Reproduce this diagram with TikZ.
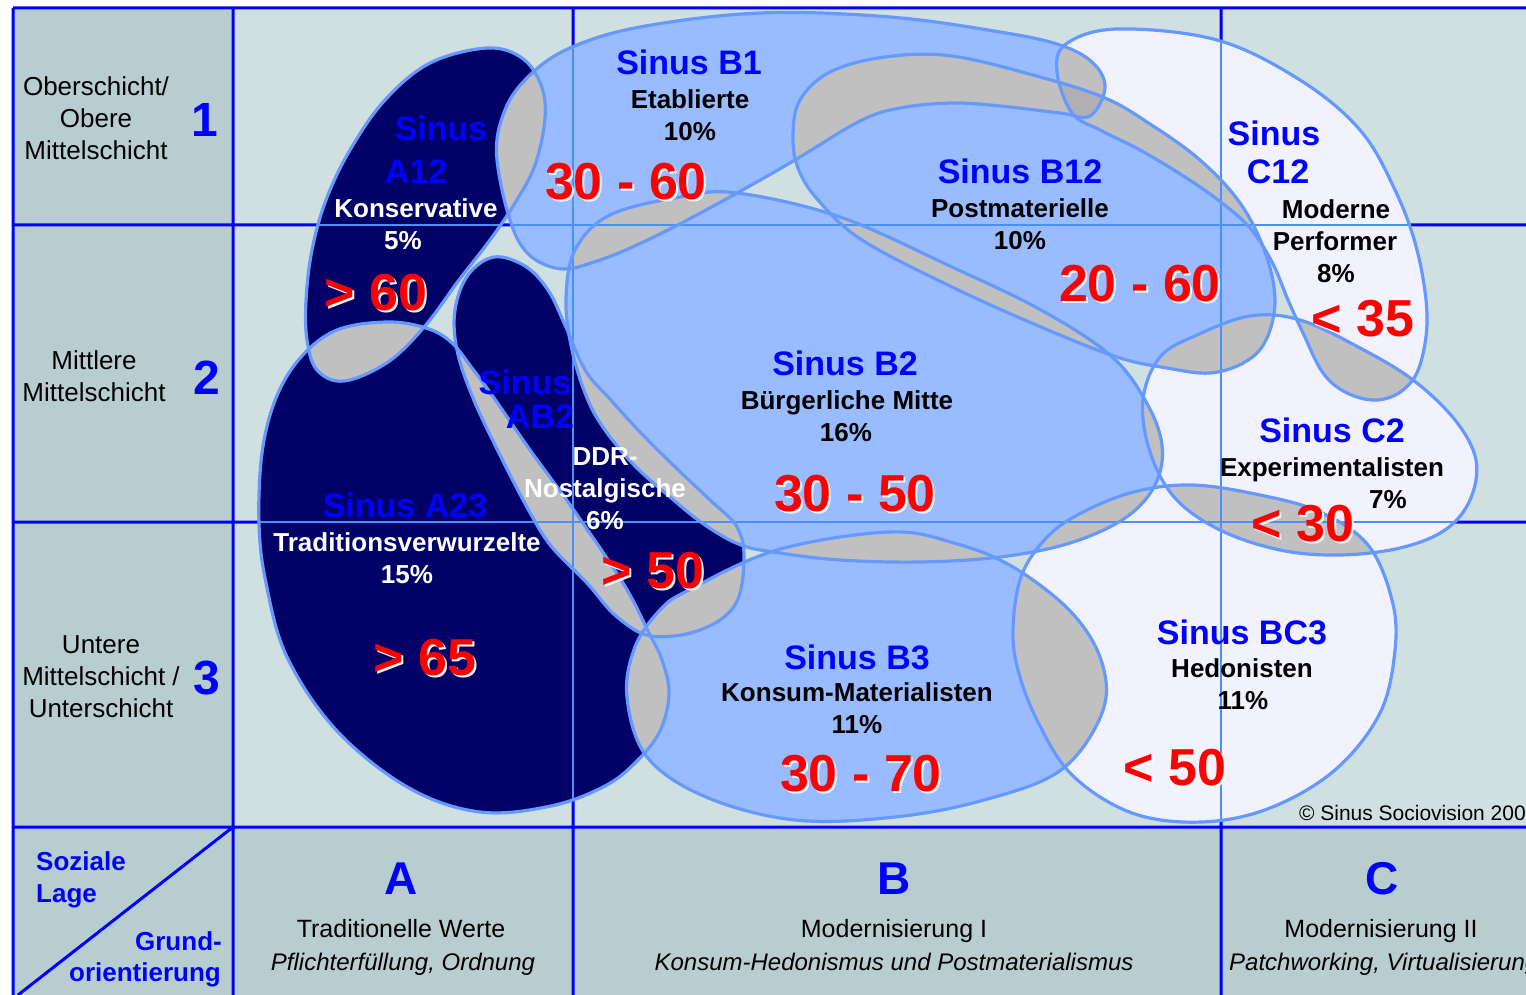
\documentclass[tikz,border=0pt]{standalone}
\usepackage{fontspec}
\setmainfont{Liberation Sans}
\definecolor{leftbg}{RGB}{184,205,208}
\definecolor{mainbg}{RGB}{208,224,224}
\definecolor{gridblue}{RGB}{0,0,255}
\definecolor{thinblue}{RGB}{70,145,255}
\definecolor{outl}{RGB}{102,153,255}
\definecolor{lblue}{RGB}{153,187,255}
\definecolor{navy}{RGB}{0,0,102}
\definecolor{pale}{RGB}{242,242,254}
\definecolor{ovg}{RGB}{192,192,192}
\definecolor{ovgd}{RGB}{176,176,180}
\definecolor{numred}{RGB}{255,0,0}
\definecolor{sinblue}{RGB}{0,0,255}
% blob paths
\def\pAa{plot[smooth cycle,tension=.6] coordinates {(487,48) (522,58) (541,85) (545,118) (535,165) (515,203) (490,240) (459,280) (425,326) (388,362) (344,381) (317,370) (307,340) (306,300) (312,250) (326,200) (350,150) (385,100) (430,63)}}
\def\pBa{plot[smooth cycle,tension=.6] coordinates {(497,160) (505,110) (530,75) (570,48) (640,27) (760,13) (890,17) (1000,32) (1060,45) (1093,63) (1105,88) (1090,116) (1060,113) (1000,106) (952,103) (900,108) (860,121) (795,160) (737,193) (662,233) (600,260) (555,268) (518,240)}}
\def\pBab{plot[smooth cycle,tension=.6] coordinates {(793,135) (800,100) (830,72) (885,57) (952,56) (1040,77) (1105,98) (1150,124) (1200,160) (1240,203) (1265,252) (1275,300) (1266,340) (1245,362) (1210,373) (1167,368) (1117,357) (1041,327) (952,287) (862,240) (818,200) (798,168)}}
\def\pCab{plot[smooth cycle,tension=.6] coordinates {(1057,72) (1066,44) (1117,29) (1217,40) (1300,80) (1360,130) (1395,190) (1417,250) (1427,315) (1420,365) (1403,390) (1377,400) (1347,393) (1323,373) (1303,333) (1288,300) (1272,262) (1250,228) (1222,203) (1185,177) (1140,150) (1100,130) (1072,113)}}
\def\pBb{plot[smooth cycle,tension=.6] coordinates {(566,300) (575,250) (610,215) (680,197) (737,193) (840,217) (952,267) (1041,310) (1110,355) (1145,400) (1162,445) (1155,485) (1125,518) (1070,543) (1000,557) (920,562) (840,560) (780,553) (741,545) (705,525) (670,497) (634,465) (605,430) (587,398) (572,350)}}
\def\pAB{plot[smooth cycle,tension=.6] coordinates {(494,257) (525,266) (548,290) (565,325) (585,370) (609,398) (640,432) (673,465) (710,500) (737,527) (744,560) (735,605) (700,630) (651,636) (616,616) (587,583) (551,546) (528,509) (500,455) (473,398) (457,350) (455,310) (468,275)}}
\def\pAb{plot[smooth cycle,tension=.6] coordinates {(387,322) (426,328) (451,342) (472,368) (494,398) (530,450) (573,509) (623,583) (648,631) (662,660) (669,694) (660,731) (637,761) (605,786) (551,806) (480,812) (409,788) (337,731) (287,657) (266,583) (259,524) (262,453) (276,398) (301,357) (337,330)}}
\def\pCb{plot[smooth cycle,tension=.6] coordinates {(1143,400) (1160,357) (1197,335) (1250,316) (1300,320) (1360,348) (1413,380) (1455,420) (1476,460) (1470,500) (1445,530) (1400,548) (1340,555) (1280,550) (1220,530) (1175,498) (1150,452)}}
\def\pBc{plot[smooth cycle,tension=.6] coordinates {(889,532) (954,543) (1013,567) (1072,613) (1102,663) (1102,713) (1061,770) (984,800) (895,817) (795,820) (706,797) (647,757) (627,697) (635,647) (660,610) (689,590) (777,550)}}
\def\pBCc{plot[smooth cycle,tension=.6] coordinates {(1191,485) (1260,495) (1320,512) (1368,545) (1392,600) (1395,650) (1380,713) (1335,770) (1270,808) (1202,822) (1132,813) (1072,775) (1037,720) (1018,670) (1013,630) (1020,580) (1040,545) (1072,518) (1130,493)}}
\newcommand\ovl[2]{\begin{scope}\clip #1; \fill[ovg] #2; \end{scope}}
\newcommand\thinin[1]{\begin{scope}\clip #1; \draw[thinl] (573,8)--(573,827) (1221,8)--(1221,827) (233,225)--(1526,225) (233,522)--(1526,522); \end{scope}}
\begin{document}
\begin{tikzpicture}[x=1pt,y=-1pt,
  gridl/.style={draw=gridblue,line width=3pt},
  thinl/.style={draw=thinblue,line width=1.1pt},
  blobline/.style={draw=outl,line width=3.2pt},
  lbl/.style={inner sep=0pt,anchor=base,yshift=-9.3pt,font=\fontsize{26}{28}\selectfont},
  rown/.style={inner sep=0pt,anchor=base,yshift=-17pt,text=sinblue,font=\bfseries\fontsize{48}{50}\selectfont},
  sinus/.style={inner sep=0pt,anchor=base,yshift=-12.2pt,text=sinblue,font=\bfseries\fontsize{34}{36}\selectfont},
  nm/.style={inner sep=0pt,anchor=base,yshift=-9.3pt,font=\bfseries\fontsize{26}{28}\selectfont},
  nmw/.style={nm,text=white},
  num/.style={inner sep=0pt,anchor=base,yshift=-18.6pt,text=numred,font=\bfseries\fontsize{52}{54}\selectfont},
  numsh/.style={num,text=white},
  colhead/.style={inner sep=0pt,anchor=base,yshift=-16.5pt,text=sinblue,font=\bfseries\fontsize{46}{48}\selectfont},
  colsub/.style={inner sep=0pt,anchor=base,yshift=-9pt,font=\fontsize{25}{27}\selectfont},
  colit/.style={inner sep=0pt,anchor=base,yshift=-8.6pt,font=\itshape\fontsize{24}{26}\selectfont},
  axl/.style={inner sep=0pt,anchor=base,yshift=-9.3pt,text=sinblue,font=\bfseries\fontsize{26}{28}\selectfont},
  copyr/.style={inner sep=0pt,anchor=base east,yshift=-7.5pt,font=\fontsize{21}{23}\selectfont}]
\useasboundingbox (0,0) rectangle (1526,995);
\clip (0,0) rectangle (1526,995);
\fill[white] (0,0) rectangle (1526,995);
% backgrounds
\fill[leftbg] (13,8) rectangle (233,827);
\fill[mainbg] (233,8) rectangle (1526,827);
\fill[leftbg] (13,827) rectangle (1526,995);
% thick grid
\draw[gridl] (13,8) -- (1526,8) (13,8) -- (13,995)
  (13,225) -- (1526,225) (13,522) -- (1526,522) (13,827) -- (1526,827)
  (233,8) -- (233,995) (573,8) -- (573,995) (1221,8) -- (1221,995)
  (233,827) -- (18,995);
% blob fills
\fill[navy] \pAa;
\fill[navy] \pAb;
\fill[navy] \pAB;
\fill[lblue] \pBa;
\fill[lblue] \pBab;
\fill[lblue] \pBb;
\fill[lblue] \pBc;
\fill[pale] \pCab;
\fill[pale] \pCb;
\fill[pale] \pBCc;
% overlaps
\ovl{\pAa}{\pBa}
\ovl{\pAa}{\pAb}
\ovl{\pAa}{\pAB}
\ovl{\pAb}{\pAB}
\ovl{\pAb}{\pBc}
\ovl{\pAB}{\pBb}
\ovl{\pAB}{\pBc}
\ovl{\pAB}{\pBa}
\ovl{\pBa}{\pBb}
\ovl{\pBa}{\pBab}
\ovl{\pBa}{\pCab}
\ovl{\pBab}{\pCab}
\ovl{\pBab}{\pBb}
\ovl{\pBab}{\pCb}
\ovl{\pCab}{\pCb}
\ovl{\pCab}{\pBb}
\ovl{\pBb}{\pCb}
\ovl{\pBb}{\pBc}
\ovl{\pBb}{\pBCc}
\ovl{\pBc}{\pBCc}
\ovl{\pCb}{\pBCc}
\begin{scope}\clip \pBa; \clip \pBab; \fill[ovgd] \pCab; \end{scope}
% thin grid lines inside blobs
\thinin{\pAa}\thinin{\pAb}\thinin{\pAB}\thinin{\pBa}\thinin{\pBab}
\thinin{\pBb}\thinin{\pBc}\thinin{\pCab}\thinin{\pCb}\thinin{\pBCc}
% outlines
\draw[blobline] \pAa;
\draw[blobline] \pAb;
\draw[blobline] \pAB;
\draw[blobline] \pBa;
\draw[blobline] \pBab;
\draw[blobline] \pBb;
\draw[blobline] \pBc;
\draw[blobline] \pCab;
\draw[blobline] \pCb;
\draw[blobline] \pBCc;
% left column labels
\node[lbl] (r1a) at (96,86) {Oberschicht/};
\node[lbl] (r1b) at (96,118) {Obere};
\node[lbl] (r1c) at (96,150) {Mittelschicht};
\node[rown] (n1) at (205,120) {1};
\node[lbl] (r2a) at (94,360) {Mittlere};
\node[lbl] (r2b) at (94,392) {Mittelschicht};
\node[rown] (n2) at (207,377) {2};
\node[lbl] (r3a) at (101,644) {Untere};
\node[lbl] (r3b) at (101,676) {Mittelschicht /};
\node[lbl] (r3c) at (101,708) {Unterschicht};
\node[rown] (n3) at (207,677) {3};
% bottom row
\node[axl,anchor=base west] (sl1) at (36,861) {Soziale};
\node[axl,anchor=base west] (sl2) at (36,893) {Lage};
\node[axl,anchor=base east] (go1) at (222,941) {Grund-};
\node[axl,anchor=base east] (go2) at (221,972) {orientierung};
\node[colhead] (ca) at (401,878) {A};
\node[colsub] (cas) at (401,928) {Traditionelle Werte};
\node[colit] (cai) at (403,962) {Pflichterfüllung, Ordnung};
\node[colhead] (cb) at (894,878) {B};
\node[colsub] (cbs) at (894,928) {Modernisierung I};
\node[colit] (cbi) at (894,962) {Konsum-Hedonismus und Postmaterialismus};
\node[colhead] (cc) at (1382,878) {C};
\node[colsub] (ccs) at (1381,928) {Modernisierung II};
\node[colit,anchor=base west] (cci) at (1229,962) {Patchworking, Virtualisierung};
% A12
\node[sinus] (a12s) at (441,128) {Sinus};
\node[sinus] (a12c) at (416,171) {A12};
\node[nmw] (a12n) at (416,208) {Konservative};
\node[nmw] (a12p) at (403,240) {5\%};
\node[numsh] (a12vs) at (378,294) {> 60};
\node[num] (a12v) at (376,292) {> 60};
% B1
\node[sinus] (b1s) at (689,62) {Sinus B1};
\node[nm] (b1n) at (690,99) {Etablierte};
\node[nm] (b1p) at (690,131) {10\%};
\node[numsh] (b1vs) at (628,183) {30 - 60};
\node[num] (b1v) at (626,181) {30 - 60};
% B12
\node[sinus] (b12s) at (1020,171) {Sinus B12};
\node[nm] (b12n) at (1020,208) {Postmaterielle};
\node[nm] (b12p) at (1020,240) {10\%};
\node[numsh] (b12vs) at (1142,285) {20 - 60};
\node[num] (b12v) at (1140,283) {20 - 60};
% C12
\node[sinus] (c12s) at (1274,133) {Sinus};
\node[sinus] (c12c) at (1278,171) {C12};
\node[nm] (c12n) at (1336,209) {Moderne};
\node[nm] (c12m) at (1335,241) {Performer};
\node[nm] (c12p) at (1336,273) {8\%};
\node[numsh] (c12vs) at (1365,320) {< 35};
\node[num] (c12v) at (1363,318) {< 35};
% B2
\node[sinus] (b2s) at (845,363) {Sinus B2};
\node[nm] (b2n) at (847,400) {Bürgerliche Mitte};
\node[nm] (b2p) at (846,432) {16\%};
\node[numsh] (b2vs) at (857,495) {30 - 50};
\node[num] (b2v) at (855,493) {30 - 50};
% AB2
\node[sinus] (ab2s) at (525,382) {Sinus};
\node[sinus] (ab2c) at (540,416) {AB2};
\node[nmw] (ab2n) at (605,456) {DDR-};
\node[nmw] (ab2m) at (605,488) {Nostalgische};
\node[nmw] (ab2p) at (605,520) {6\%};
\node[numsh] (ab2vs) at (655,572) {> 50};
\node[num] (ab2v) at (653,570) {> 50};
% A23
\node[sinus] (a23s) at (405,505) {Sinus A23};
\node[nmw] (a23n) at (407,542) {Traditionsverwurzelte};
\node[nmw] (a23p) at (407,574) {15\%};
\node[numsh] (a23vs) at (427,659) {> 65};
\node[num] (a23v) at (425,657) {> 65};
% C2
\node[sinus] (c2s) at (1332,430) {Sinus C2};
\node[nm] (c2n) at (1332,467) {Experimentalisten};
\node[nm] (c2p) at (1388,499) {7\%};
\node[numsh] (c2vs) at (1305,525) {< 30};
\node[num] (c2v) at (1303,523) {< 30};
% B3
\node[sinus] (b3s) at (857,657) {Sinus B3};
\node[nm] (b3n) at (857,692) {Konsum-Materialisten};
\node[nm] (b3p) at (857,724) {11\%};
\node[numsh] (b3vs) at (863,775) {30 - 70};
\node[num] (b3v) at (861,773) {30 - 70};
% BC3
\node[sinus] (bc3s) at (1242,632) {Sinus BC3};
\node[nm] (bc3n) at (1242,668) {Hedonisten};
\node[nm] (bc3p) at (1243,700) {11\%};
\node[numsh] (bc3vs) at (1177,769) {< 50};
\node[num] (bc3v) at (1175,767) {< 50};
% copyright
\node[copyr] (copy) at (1526,813) {© Sinus Sociovision 200};
\end{tikzpicture}
\end{document}
